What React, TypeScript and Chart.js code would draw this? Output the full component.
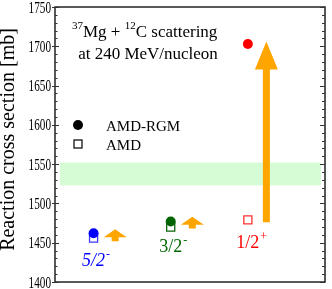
import React, { useEffect, useRef } from "react";
import { Chart, registerables } from "chart.js";

Chart.register(...registerables);

// ---- data ----
const states = ["5/2", "3/2", "1/2"];
const stateParity = ["-", "-", "+"];
const stateColors = ["#0000ff", "#006400", "#ff0000"];
const squareColors = ["#3a3aff", "#0a640a", "#ff3030"];
const stateX = [1, 2, 3];
const amdRgm = [1462, 1477, 1703];
const amd = [1456, 1470, 1479];
const arrowX = [1.28, 2.28, 3.24];
const arrowFrom = [1452, 1468, 1476];
const arrowTo = [1467, 1483, 1706];
const labelY = [1421, 1438, 1443];
const bandRange = [1523, 1552];
const yTicks = [1400, 1450, 1500, 1550, 1600, 1650, 1700, 1750];
const yMinorStep = 10;
const yTitle = "Reaction cross section [mb]";

const SERIF = "'Liberation Serif', 'Times New Roman', serif";

function drawArrow(ctx: CanvasRenderingContext2D, x: number, y0: number, y1: number, stemW: number, headW: number, headLen: number) {
  ctx.beginPath();
  const hb = y1 + headLen;
  ctx.moveTo(x - stemW / 2, y0);
  ctx.lineTo(x - stemW / 2, hb);
  ctx.lineTo(x - headW / 2, hb);
  ctx.lineTo(x, y1);
  ctx.lineTo(x + headW / 2, hb);
  ctx.lineTo(x + stemW / 2, hb);
  ctx.lineTo(x + stemW / 2, y0);
  ctx.closePath();
  ctx.fill();
}

const decor = {
  id: "decor",
  beforeDatasetsDraw(chart: any) {
    const { ctx, chartArea, scales } = chart;
    const xs = scales.x, ys = scales.y;
    ctx.save();
    // green band
    ctx.fillStyle = "#d5fcd5";
    const yb1 = ys.getPixelForValue(bandRange[1]);
    const yb0 = ys.getPixelForValue(bandRange[0]);
    ctx.fillRect(chartArea.left + 5, yb1, chartArea.right - chartArea.left - 9, yb0 - yb1);
    // arrows
    ctx.fillStyle = "#ffa500";
    for (let i = 0; i < arrowX.length; i++) {
      const px = xs.getPixelForValue(arrowX[i]);
      const p0 = ys.getPixelForValue(arrowFrom[i]);
      const p1 = ys.getPixelForValue(arrowTo[i]);
      const big = p0 - p1 > 40;
      drawArrow(ctx, px, p0, p1, 7, 23, big ? 28 : 8);
    }
    ctx.restore();
  },
  afterDraw(chart: any) {
    const { ctx, chartArea, scales } = chart;
    const xs = scales.x, ys = scales.y;
    const { left, right, top, bottom } = chartArea;
    ctx.save();
    // frame
    ctx.strokeStyle = "#222";
    ctx.lineWidth = 1.5;
    ctx.strokeRect(left, top, right - left, bottom - top);
    // ticks
    ctx.lineWidth = 1;
    ctx.strokeStyle = "#333";
    const y0 = yTicks[0], y1 = yTicks[yTicks.length - 1];
    for (let v = y0; v <= y1; v += yMinorStep) {
      const py = Math.round(ys.getPixelForValue(v)) + 0.5;
      const major = yTicks.indexOf(v) >= 0;
      ctx.beginPath();
      if (major) {
        ctx.moveTo(left - 3, py); ctx.lineTo(left + 4, py);
        ctx.moveTo(right - 5, py); ctx.lineTo(right, py);
      } else {
        ctx.moveTo(left, py); ctx.lineTo(left + 2.5, py);
        ctx.moveTo(right - 3, py); ctx.lineTo(right, py);
      }
      ctx.stroke();
    }
    // tick labels (narrow)
    ctx.fillStyle = "#000";
    ctx.font = `16px ${SERIF}`;
    ctx.textAlign = "right";
    ctx.textBaseline = "alphabetic";
    for (const t of yTicks) {
      const py = ys.getPixelForValue(t);
      ctx.save();
      ctx.translate(left - 4, py + 5.5);
      ctx.scale(0.7, 1);
      ctx.fillText(String(t), 0, 0);
      ctx.restore();
    }
    // y title
    ctx.save();
    ctx.font = `20px ${SERIF}`;
    ctx.textAlign = "center";
    ctx.translate(14, (top + bottom) / 2 - 5);
    ctx.rotate(-Math.PI / 2);
    ctx.fillText(yTitle, 0, 0);
    ctx.restore();
    // title text
    ctx.textAlign = "left";
    let x = left + 17;
    const b1 = top + 30;
    ctx.font = `11px ${SERIF}`;
    ctx.fillText("37", x, b1 - 8);
    x += ctx.measureText("37").width;
    ctx.font = `17px ${SERIF}`;
    ctx.fillText("Mg + ", x, b1);
    x += ctx.measureText("Mg + ").width;
    ctx.font = `11px ${SERIF}`;
    ctx.fillText("12", x, b1 - 8);
    x += ctx.measureText("12").width;
    ctx.font = `17px ${SERIF}`;
    ctx.fillText("C scattering", x, b1);
    ctx.textAlign = "center";
    ctx.fillText("at 240 MeV/nucleon", left + 93, top + 52);
    // legend
    ctx.fillStyle = "#000";
    ctx.beginPath();
    ctx.arc(left + 23, top + 118, 5, 0, Math.PI * 2);
    ctx.fill();
    ctx.strokeStyle = "#000";
    ctx.lineWidth = 1.2;
    ctx.strokeRect(left + 19, top + 133, 8, 8);
    ctx.font = `15px ${SERIF}`;
    ctx.textAlign = "left";
    ctx.fillText("AMD-RGM", left + 51, top + 124);
    ctx.fillText("AMD", left + 51, top + 143);
    // state labels
    for (let i = 0; i < states.length; i++) {
      const cx = xs.getPixelForValue(stateX[i]);
      const by = ys.getPixelForValue(labelY[i]);
      ctx.fillStyle = stateColors[i];
      ctx.font = `${i === 0 ? "italic " : ""}18px ${SERIF}`;
      const w = ctx.measureText(states[i]).width;
      ctx.textAlign = "left";
      ctx.fillText(states[i], cx - w / 2, by);
      ctx.font = `12px ${SERIF}`;
      ctx.fillText(stateParity[i], cx + w / 2 + 1, by - 8);
    }
    ctx.restore();
  },
};

export default function App() {
  const ref = useRef<HTMLCanvasElement | null>(null);
  useEffect(() => {
    if (!ref.current) return;
    const chart = new Chart(ref.current, {
      type: "scatter",
      data: {
        datasets: [
          {
            label: "AMD-RGM",
            data: stateX.map((x, i) => ({ x, y: amdRgm[i] })),
            pointStyle: "circle",
            pointRadius: 5,
            pointBackgroundColor: stateColors,
            pointBorderWidth: 0,
            pointBorderColor: stateColors,
          },
          {
            label: "AMD",
            data: stateX.map((x, i) => ({ x, y: amd[i] })),
            pointStyle: "rect",
            pointRadius: 5.7,
            pointBackgroundColor: "rgba(255,255,255,0)",
            pointBorderWidth: 1.3,
            pointBorderColor: squareColors,
          },
        ],
      },
      options: {
        animation: false,
        responsive: true,
        maintainAspectRatio: false,
        layout: { padding: { left: 55, right: 2, top: 6, bottom: 7 } },
        plugins: { legend: { display: false }, tooltip: { enabled: false } },
        scales: {
          x: { type: "linear", min: 0.5, max: 4.0, display: false },
          y: { type: "linear", min: 1400, max: 1750, display: false },
        },
      },
      plugins: [decor],
    });
    return () => chart.destroy();
  }, []);
  return (
    <div style={{ position: "absolute", left: 0, top: 0, width: 332, height: 289 }}>
      <canvas ref={ref} />
    </div>
  );
}
